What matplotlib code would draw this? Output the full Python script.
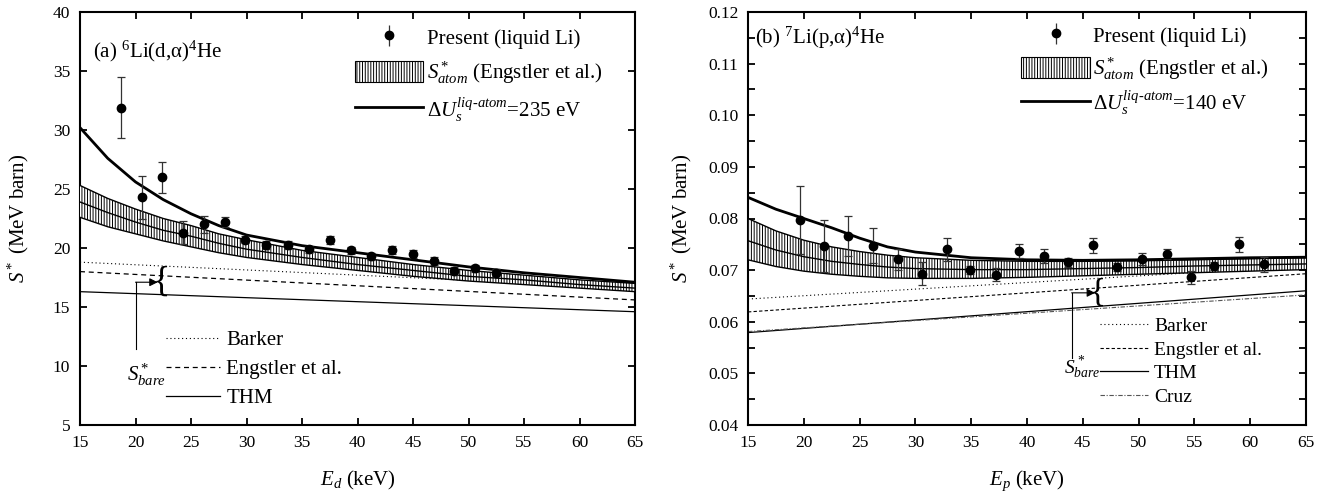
import matplotlib
matplotlib.use("Agg")
import matplotlib.pyplot as plt
from matplotlib.lines import Line2D
from matplotlib.patches import Patch
from matplotlib.ticker import MultipleLocator, FormatStrFormatter

plt.rcParams["font.family"] = ["Liberation Serif", "DejaVu Serif"]
plt.rcParams["mathtext.fontset"] = "custom"
plt.rcParams["mathtext.rm"] = "Liberation Serif"
plt.rcParams["mathtext.it"] = "Liberation Serif:italic"
plt.rcParams["mathtext.bf"] = "Liberation Serif:bold"
plt.rcParams["hatch.linewidth"] = 0.7

# ---- (a) 6Li(d,alpha)4He ----
E_d = [18.7, 20.6, 22.4, 24.3, 26.2, 28.1, 29.9, 31.8, 33.7, 35.6,
       37.5, 39.4, 41.2, 43.1, 45.0, 46.9, 48.7, 50.6, 52.5]
S_d = [31.9, 24.3, 26.0, 21.3, 22.0, 22.2, 20.7, 20.25, 20.25, 19.9,
       20.65, 19.8, 19.3, 19.85, 19.5, 18.9, 18.05, 18.3, 17.9]
err_d = [2.55, 1.8, 1.3, 1.0, 0.7, 0.4, 0.3, 0.35, 0.35, 0.3,
         0.35, 0.3, 0.3, 0.35, 0.35, 0.3, 0.3, 0.3, 0.3]

E_grid = [15, 17.5, 20, 22.5, 25, 27.5, 30, 35, 40, 45, 50, 55, 60, 65]
dU_d = [30.2, 27.6, 25.6, 24.1, 22.9, 21.9, 21.1, 20.2, 19.6, 19.0, 18.4, 17.9, 17.5, 17.1]
atom_hi_d = [25.3, 24.2, 23.3, 22.5, 21.9, 21.2, 20.7, 19.8, 19.2, 18.6, 18.1, 17.7, 17.3, 17.0]
atom_mid_d = [23.9, 23.0, 22.2, 21.5, 21.0, 20.4, 19.9, 19.2, 18.6, 18.1, 17.6, 17.3, 16.9, 16.6]
atom_lo_d = [22.6, 21.8, 21.2, 20.6, 20.1, 19.6, 19.2, 18.6, 18.1, 17.6, 17.2, 16.9, 16.6, 16.3]

E_ends = [15, 65]
barker_d = [18.8, 16.6]
engstler_d = [18.0, 15.6]
thm_d = [16.3, 14.6]

# ---- (b) 7Li(p,alpha)4He ----
E_p = [19.7, 21.8, 24.0, 26.2, 28.4, 30.6, 32.8, 34.9, 37.2, 39.3,
       41.5, 43.7, 45.9, 48.1, 50.3, 52.5, 54.7, 56.8, 59.0, 61.2]
S_p = [0.0797, 0.0747, 0.0766, 0.0747, 0.0721, 0.0693, 0.0740, 0.0700, 0.0691, 0.0737,
       0.0727, 0.0715, 0.0748, 0.0706, 0.0722, 0.0731, 0.0686, 0.0708, 0.0750, 0.0711]
err_p = [0.0065, 0.0050, 0.0038, 0.0034, 0.0020, 0.0022, 0.0022, 0.0008, 0.0013, 0.0014,
         0.0013, 0.0009, 0.0014, 0.0007, 0.0012, 0.0010, 0.0013, 0.0008, 0.0014, 0.0014]

dU_p = [0.0841, 0.0818, 0.0800, 0.0782, 0.0762, 0.0745, 0.0735, 0.0724, 0.0720,
        0.0719, 0.0720, 0.0722, 0.0724, 0.0725]
atom_hi_p = [0.0800, 0.0776, 0.0758, 0.0745, 0.0736, 0.0729, 0.0724, 0.0719, 0.0717,
             0.0717, 0.0718, 0.0720, 0.0722, 0.0724]
atom_mid_p = [0.0757, 0.0739, 0.0726, 0.0717, 0.0711, 0.0706, 0.0703, 0.0701, 0.0701,
              0.0703, 0.0705, 0.0708, 0.0710, 0.0712]
atom_lo_p = [0.0720, 0.0707, 0.0698, 0.0692, 0.0688, 0.0685, 0.0684, 0.0684, 0.0686,
             0.0689, 0.0692, 0.0695, 0.0698, 0.0701]

barker_p = [0.0644, 0.0708]
engstler_p = [0.0619, 0.0693]
thm_p = [0.0579, 0.0660]
cruz_p = [0.0581, 0.0652]

HATCH = "||||||"
FS_LEG = 15
MS = 6


def style_axes(ax):
    ax.set_xlim(15, 65)
    ax.xaxis.set_major_locator(MultipleLocator(5))
    ax.tick_params(which="both", direction="in", top=True, right=True,
                   length=5, width=1.3, labelsize=12.5, pad=7)
    for s in ax.spines.values():
        s.set_linewidth(1.5)


def draw_common(ax, E, S, err, dU, hi, mid, lo):
    ax.fill_between(E_grid, lo, hi, facecolor="white", edgecolor="black",
                    hatch=HATCH, lw=0, zorder=3)
    for y in (hi, mid, lo):
        ax.plot(E_grid, y, color="black", lw=1.0, zorder=4)
    ax.plot(E_grid, dU, color="black", lw=2.0, zorder=5)
    ax.errorbar(E, S, yerr=err, fmt="o", ms=MS, color="black", ecolor="#333333",
                elinewidth=0.9, capsize=3, capthick=0.9, zorder=6)


def top_legend(ax, label_du, anchor, spacing):
    pres = ax.errorbar([], [], yerr=[], fmt="o", ms=MS, color="black",
                       ecolor="#333333", elinewidth=0.9, capsize=3)
    handles = [
        pres,
        Patch(facecolor="white", edgecolor="black", hatch=HATCH, lw=0.8),
        Line2D([], [], color="black", lw=2.0),
    ]
    labels = ["Present (liquid Li)", r"$S^*_{atom}$ (Engstler et al.)", label_du]
    leg = ax.legend(handles, labels, loc="upper left", bbox_to_anchor=anchor,
                    frameon=False, fontsize=FS_LEG, handlelength=3.3,
                    handleheight=1.2, handletextpad=0.15, labelspacing=spacing,
                    borderpad=0, borderaxespad=0)
    ax.add_artist(leg)


fig = plt.figure(figsize=(13.36, 4.97), dpi=100)
ax1 = fig.add_axes([80 / 1336, 1 - 425 / 497, 555 / 1336, 413 / 497])
ax2 = fig.add_axes([748 / 1336, 1 - 425 / 497, 558 / 1336, 413 / 497])

DU_LABEL = r"$\mathit{Δ}U_s^{liq\text{-}atom}$"

# panel (a)
style_axes(ax1)
ax1.set_ylim(5, 40)
ax1.yaxis.set_major_locator(MultipleLocator(5))
l_b, = ax1.plot(E_ends, barker_d, color="black", lw=0.8, ls=(0, (1, 2.5)), zorder=2)
l_e, = ax1.plot(E_ends, engstler_d, color="black", lw=0.9, ls=(0, (4, 3)), zorder=2)
l_t, = ax1.plot(E_ends, thm_d, color="black", lw=0.9, zorder=2)
draw_common(ax1, E_d, S_d, err_d, dU_d, atom_hi_d, atom_mid_d, atom_lo_d)
top_legend(ax1, DU_LABEL + "=235 eV", (0.495, 0.965), 0.5)
ax1.legend([l_b, l_e, l_t], ["Barker", "Engstler et al.", "THM"],
           loc="upper left", bbox_to_anchor=(0.155, 0.228), frameon=False,
           fontsize=FS_LEG, handlelength=2.6, handletextpad=0.3,
           labelspacing=0.45, borderpad=0, borderaxespad=0)
ax1.text(16.2, 36.7, r"(a) $^{6}$Li(d,α)$^{4}$He", fontsize=FS_LEG, va="center")
ax1.text(22.3, 17.1, "{", fontsize=26, ha="center", va="center")
ax1.plot([20.0, 20.0], [11.4, 17.1], color="black", lw=0.8)
ax1.annotate("", xy=(22.0, 17.1), xytext=(20.0, 17.1),
             arrowprops=dict(arrowstyle="-|>", lw=0.8, color="black",
                             shrinkA=0, shrinkB=0, mutation_scale=12))
ax1.text(19.2, 9.3, r"$S^*_{bare}$", fontsize=FS_LEG, ha="left", va="center")
ax1.set_xlabel(r"$E_d$ (keV)", fontsize=15, labelpad=13)
ax1.set_ylabel(r"$S^*$ (MeV barn)", fontsize=15, labelpad=16)

# panel (b)
style_axes(ax2)
ax2.set_ylim(0.04, 0.12)
ax2.yaxis.set_major_locator(MultipleLocator(0.01))
ax2.yaxis.set_minor_locator(MultipleLocator(0.005))
ax2.yaxis.set_major_formatter(FormatStrFormatter("%.2f"))
m_b, = ax2.plot(E_ends, barker_p, color="black", lw=0.8, ls=(0, (1, 2.5)), zorder=2)
m_e, = ax2.plot(E_ends, engstler_p, color="black", lw=0.8, ls=(0, (3, 2)), zorder=2)
m_t, = ax2.plot(E_ends, thm_p, color="black", lw=0.9, zorder=2)
m_c, = ax2.plot(E_ends, cruz_p, color="#555555", lw=0.8, ls=(0, (4, 1.5, 1, 1.5)), zorder=2)
draw_common(ax2, E_p, S_p, err_p, dU_p, atom_hi_p, atom_mid_p, atom_lo_p)
top_legend(ax2, DU_LABEL + "=140 eV", (0.49, 0.97), 0.4)
ax2.legend([m_b, m_e, m_t, m_c], ["Barker", "Engstler et al.", "THM", "Cruz"],
           loc="upper left", bbox_to_anchor=(0.63, 0.26), frameon=False,
           fontsize=14, handlelength=2.5, handletextpad=0.3,
           labelspacing=0.3, borderpad=0, borderaxespad=0)
ax2.text(15.6, 0.1149, r"(b) $^{7}$Li(p,α)$^{4}$He", fontsize=FS_LEG, va="center")
ax2.text(46.4, 0.0657, "{", fontsize=24, ha="center", va="center")
ax2.plot([44.0, 44.0], [0.0530, 0.0656], color="black", lw=0.8)
ax2.annotate("", xy=(46.1, 0.0656), xytext=(44.0, 0.0656),
             arrowprops=dict(arrowstyle="-|>", lw=0.8, color="black",
                             shrinkA=0, shrinkB=0, mutation_scale=12))
ax2.text(43.3, 0.0510, r"$S^*_{bare}$", fontsize=14, ha="left", va="center")
ax2.set_xlabel(r"$E_p$ (keV)", fontsize=15, labelpad=13)
ax2.set_ylabel(r"$S^*$ (MeV barn)", fontsize=15, labelpad=10)

fig.savefig("out.png", dpi=100)
